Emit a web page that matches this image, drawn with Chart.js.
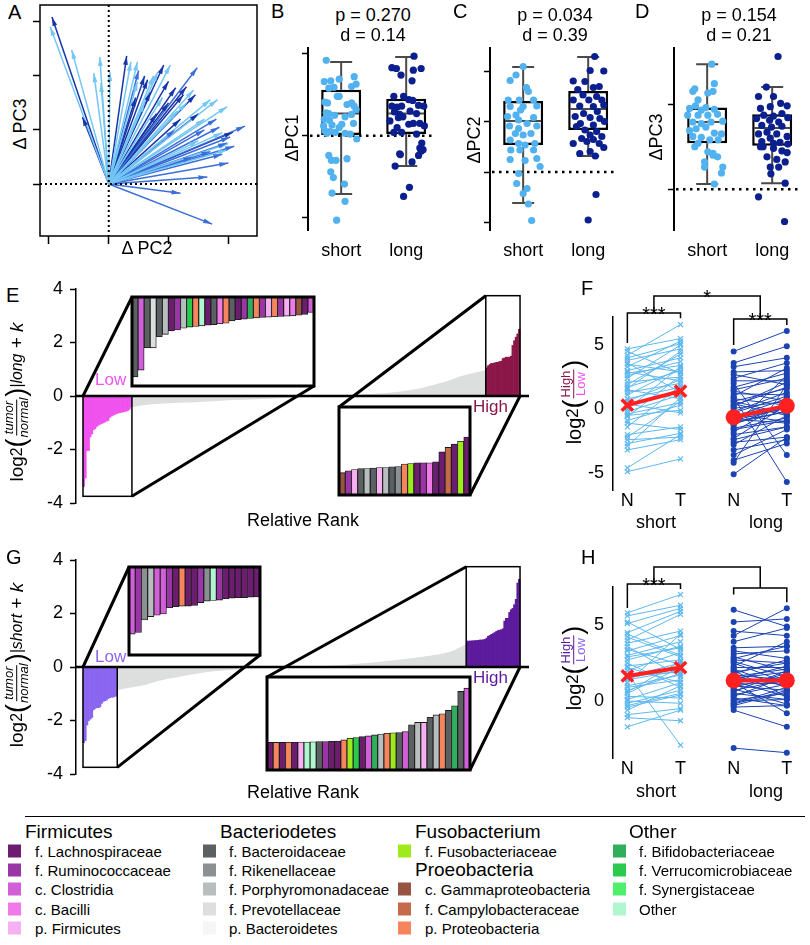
<!DOCTYPE html>
<html>
<head>
<meta charset="utf-8">
<title>Figure</title>
<script src="https://cdn.jsdelivr.net/npm/chart.js@4.4.1/dist/chart.umd.min.js"></script>
<style>
  html, body { margin: 0; padding: 0; background: #fff; }
  #fig { position: relative; width: 810px; height: 945px; overflow: hidden; background: #fff;
         font-family: "Liberation Sans", Arial, Helvetica, sans-serif; color: #000; }
  #fig canvas { position: absolute; }
  .t  { position: absolute; white-space: nowrap; line-height: 1; transform: translateY(-50%); font-size: 18px; }
  .tc { position: absolute; white-space: nowrap; line-height: 1; transform: translate(-50%, -50%); font-size: 18px; }
  .rot { position: absolute; white-space: nowrap; line-height: 1; font-size: 18px; display: flex; align-items: center;
         transform: translate(-50%, -50%) rotate(-90deg); }
  .pl { font-size: 20px; }
  .frac { display: inline-flex; flex-direction: column; align-items: center; font-size: 13px; line-height: 1.1; margin: 0 1px; }
  .frac > :first-child { border-bottom: 1.3px solid currentColor; padding: 0 1px; }
  .paren { font-size: 27px; font-weight: 300; }
  .sw { position: absolute; width: 13px; height: 13px; transform: translateY(-50%); }
  .lg { font-size: 15px; }
  .lh { font-size: 19px; }
  .rule { position: absolute; left: 25px; top: 816px; width: 780px; border-top: 1.5px solid #000; }
</style>
</head>
<body>
<div id="fig">
  <canvas id="cA" width="230" height="250" style="left:30px;top:0px"></canvas>
  <canvas id="cB" width="150" height="230" style="left:300px;top:40px"></canvas>
  <canvas id="cC" width="150" height="230" style="left:482px;top:40px"></canvas>
  <canvas id="cD" width="150" height="230" style="left:666px;top:40px"></canvas>
  <canvas id="cE" width="510" height="250" style="left:30px;top:271px"></canvas>
  <canvas id="cE1" width="186" height="93" style="left:130px;top:295px"></canvas>
  <canvas id="cE2" width="135" height="92" style="left:337px;top:405px"></canvas>
  <canvas id="cF" width="250" height="240" style="left:560px;top:280px"></canvas>
  <canvas id="cG" width="510" height="250" style="left:30px;top:542px"></canvas>
  <canvas id="cG1" width="135" height="92" style="left:127px;top:565px"></canvas>
  <canvas id="cG2" width="207" height="97" style="left:265px;top:675px"></canvas>
  <canvas id="cH" width="250" height="238" style="left:560px;top:550px"></canvas>

  <!-- panel A-D text -->
  <div class="t pl" style="left:8px;top:12px">A</div>
  <div class="rot" style="left:20px;top:124px">Δ PC3</div>
  <div class="tc" style="left:147px;top:248px">Δ PC2</div>

  <div class="t pl" style="left:271px;top:11px">B</div>
  <div class="tc" style="left:373px;top:15px">p = 0.270</div>
  <div class="tc" style="left:373px;top:35px">d = 0.14</div>
  <div class="rot" style="left:292px;top:138px">ΔPC1</div>

  <div class="t pl" style="left:453px;top:11px">C</div>
  <div class="tc" style="left:555px;top:15px">p = 0.034</div>
  <div class="tc" style="left:555px;top:35px">d = 0.39</div>
  <div class="rot" style="left:474px;top:140px">ΔPC2</div>

  <div class="t pl" style="left:635px;top:11px">D</div>
  <div class="tc" style="left:739px;top:15px">p = 0.154</div>
  <div class="tc" style="left:739px;top:35px">d = 0.21</div>
  <div class="rot" style="left:656px;top:137px">ΔPC3</div>

  <!-- panel E / F -->
  <div class="t pl" style="left:6px;top:295px">E</div>
  <div class="rot" style="left:17px;top:402px;font-size:19px">log<sub>2</sub><span class="paren">(</span><span class="frac"><i>tumor</i><i>normal</i></span><span class="paren">)</span><sub><i>|long</i></sub>&nbsp;+&nbsp;<i>k</i></div>
  <div class="t" style="left:95px;top:379px;font-size:17px;color:#F052EE">Low</div>
  <div class="t" style="left:473px;top:406px;font-size:17px;color:#8B1748">High</div>
  <div class="tc" style="left:303px;top:520px">Relative Rank</div>

  <div class="t pl" style="left:581px;top:288px">F</div>
  <div class="rot" style="left:574px;top:402px;font-size:20px">log<sub>2</sub><span class="paren">(</span><span class="frac"><span style="color:#8B1748">High</span><span style="color:#F052EE">Low</span></span><span class="paren">)</span></div>
  <div class="tc" style="left:656px;top:522px">short</div>
  <div class="tc" style="left:766px;top:522px">long</div>

  <!-- panel G / H -->
  <div class="t pl" style="left:6px;top:557px">G</div>
  <div class="rot" style="left:17px;top:665px;font-size:19px">log<sub>2</sub><span class="paren">(</span><span class="frac"><i>tumor</i><i>normal</i></span><span class="paren">)</span><sub><i>|short</i></sub>&nbsp;+&nbsp;<i>k</i></div>
  <div class="t" style="left:95px;top:656px;font-size:17px;color:#8A66F0">Low</div>
  <div class="t" style="left:473px;top:677px;font-size:17px;color:#5C1A9C">High</div>
  <div class="tc" style="left:303px;top:792px">Relative Rank</div>

  <div class="t pl" style="left:581px;top:557px">H</div>
  <div class="rot" style="left:574px;top:668px;font-size:20px">log<sub>2</sub><span class="paren">(</span><span class="frac"><span style="color:#5C1A9C">High</span><span style="color:#8A66F0">Low</span></span><span class="paren">)</span></div>
  <div class="tc" style="left:656px;top:791px">short</div>
  <div class="tc" style="left:766px;top:791px">long</div>

  <!-- legend -->
  <div class="rule"></div>
  <div class="t lh" style="left:25px;top:831px">Firmicutes</div>
  <div class="sw" style="left:8px;top:851px;background:#6C1D6F"></div><div class="t lg" style="left:35px;top:851px">f. Lachnospiraceae</div>
  <div class="sw" style="left:8px;top:870px;background:#9A35A6"></div><div class="t lg" style="left:35px;top:870px">f. Ruminococcaceae</div>
  <div class="sw" style="left:8px;top:889px;background:#D15FD8"></div><div class="t lg" style="left:35px;top:889px">c. Clostridia</div>
  <div class="sw" style="left:8px;top:909px;background:#EF7AE8"></div><div class="t lg" style="left:35px;top:909px">c. Bacilli</div>
  <div class="sw" style="left:8px;top:928px;background:#F6AFF0"></div><div class="t lg" style="left:35px;top:928px">p. Firmicutes</div>

  <div class="t lh" style="left:220px;top:831px">Bacteriodetes</div>
  <div class="sw" style="left:203px;top:851px;background:#5B6062"></div><div class="t lg" style="left:229px;top:851px">f. Bacteroidaceae</div>
  <div class="sw" style="left:203px;top:870px;background:#8B9192"></div><div class="t lg" style="left:229px;top:870px">f. Rikenellaceae</div>
  <div class="sw" style="left:203px;top:889px;background:#B8BDBD"></div><div class="t lg" style="left:229px;top:889px">f. Porphyromonadaceae</div>
  <div class="sw" style="left:203px;top:909px;background:#DCDFDE"></div><div class="t lg" style="left:229px;top:909px">f. Prevotellaceae</div>
  <div class="sw" style="left:203px;top:928px;background:#F6F6F6"></div><div class="t lg" style="left:229px;top:928px">p. Bacteroidetes</div>

  <div class="t lh" style="left:415px;top:831px">Fusobacterium</div>
  <div class="sw" style="left:398px;top:851px;background:#9FEA1A"></div><div class="t lg" style="left:425px;top:851px">f. Fusobacteriaceae</div>
  <div class="t lh" style="left:415px;top:869px">Proeobacteria</div>
  <div class="sw" style="left:398px;top:889px;background:#975442"></div><div class="t lg" style="left:425px;top:889px">c. Gammaproteobacteria</div>
  <div class="sw" style="left:398px;top:909px;background:#C56B4B"></div><div class="t lg" style="left:425px;top:909px">f. Campylobacteraceae</div>
  <div class="sw" style="left:398px;top:928px;background:#F6845C"></div><div class="t lg" style="left:425px;top:928px">p. Proteobacteria</div>

  <div class="t lh" style="left:629px;top:831px">Other</div>
  <div class="sw" style="left:613px;top:851px;background:#2FAF5B"></div><div class="t lg" style="left:639px;top:851px">f. Bifidobacteriaceae</div>
  <div class="sw" style="left:613px;top:870px;background:#28CB4E"></div><div class="t lg" style="left:639px;top:870px">f. Verrucomicrobiaceae</div>
  <div class="sw" style="left:613px;top:889px;background:#4DEF6C"></div><div class="t lg" style="left:639px;top:889px">f. Synergistaceae</div>
  <div class="sw" style="left:613px;top:909px;background:#AFF6D1"></div><div class="t lg" style="left:639px;top:909px">Other</div>
</div>

<script>
'use strict';

/* ---- data ---- */

// A: arrow end points (dPC2, dPC3), all start at the origin
var arrowsLight = [[-0.98,2.91],[-0.62,2.48],[-0.25,2.05],[-0.15,2.35],[-0.13,1.87],[0.02,2.07],[0.37,2.26],[0.48,2.26],
  [0.48,1.89],[0.82,2.07],[1.03,2.2],[1.42,1.74],[1.7,1.56],[1.82,1.56],[1.98,1.43],[1.98,0.63],[1.6,1.2],[1.3,1.5],
  [0.9,1.6],[0.6,1.5],[1.9,0.95],[1.5,0.8],[2.0,0.75],[1.15,1.35],[0.75,2.0]];
var arrowsMid = [[1.48,2.15],[2.28,1.07],[2.03,0.87],[1.98,0.76],[2.0,0.39],[1.65,0.13],[1.2,-0.17],[1.73,-0.74],
  [1.8,1.2],[1.6,1.0],[1.7,0.6],[1.9,0.55],[0.5,2.1],[1.1,1.0],[1.4,0.5],[2.1,0.7],[1.85,1.05]];
var arrowsDark = [[-0.95,3.09],[-0.44,1.24],[0.3,2.37],[0.65,1.93],[0.92,2.2],[1.12,1.78],[1.45,1.65],[0.7,1.7],
  [1.0,1.9],[1.3,1.8],[0.8,1.3],[1.2,1.2],[1.5,1.3],[0.6,2.0],[2.08,0.96],[1.25,1.65],[0.45,1.6],[1.0,1.5]];
var aTicksX = [-1, 0, 1, 2];
var aTicksY = [0, 1, 2, 3];

// B-D: jittered points [offset, value] and box stats [short, long]
var groupNames = ['short', 'long'];
var bShort = [[-0.23,0.92],[-0.26,0.66],[-0.16,0.67],[-0.03,0.69],[0.2,0.72],[0.23,0.63],[0.16,0.60],[-0.19,0.58],
  [-0.11,0.59],[-0.03,0.48],[-0.06,0.48],[-0.25,0.41],[-0.21,0.40],[0.16,0.40],[0.2,0.36],[0.09,0.38],[0.23,0.32],
  [-0.23,0.28],[-0.19,0.27],[-0.1,0.25],[0.16,0.26],[0.06,0.23],[-0.26,0.20],[-0.18,0.19],[0.19,0.15],[-0.14,0.13],
  [-0.03,0.10],[-0.25,0.06],[-0.17,0.05],[-0.22,0.03],[-0.09,0.04],[0.06,0.03],[0.14,0.02],[0.24,-0.04],[-0.19,-0.24],
  [-0.15,-0.30],[-0.08,-0.30],[0.09,-0.28],[-0.16,-0.44],[-0.12,-0.51],[0.05,-0.59],[-0.14,-0.70],[0.06,-0.80],
  [-0.07,-1.03],[-0.27,0.12],[0.01,0.14]];
var bLong = [[-0.22,0.83],[-0.15,0.82],[0.12,0.97],[0.11,0.80],[0.23,0.82],[-0.08,0.74],[0.09,0.67],[-0.19,0.48],
  [-0.04,0.48],[-0.22,0.36],[-0.14,0.35],[-0.07,0.36],[0.04,0.44],[0.10,0.43],[0.19,0.37],[0.27,0.36],[-0.18,0.29],
  [-0.10,0.26],[0.06,0.30],[0.16,0.27],[-0.12,0.22],[-0.05,0.23],[-0.25,0.18],[0.04,0.14],[0.11,0.15],[0.21,0.15],
  [0.28,0.12],[-0.14,0.10],[-0.07,0.04],[-0.19,0.04],[0.16,0.02],[0.24,-0.09],[0.21,-0.15],[0.26,-0.17],[-0.10,-0.22],
  [-0.09,-0.23],[0.09,-0.32],[0.23,-0.19],[-0.17,-0.37],[0.05,-0.63],[-0.04,-0.74],[0.19,-0.24]];
var bQ1 = [0.01, 0.02], bMed = [0.27, 0.27], bQ3 = [0.56, 0.45], bLo = [-0.71, -0.37], bHi = [0.90, 0.96];

var cShort = [[0,2.11],[-0.2,1.83],[-0.11,1.94],[0.05,1.69],[0.08,1.61],[-0.23,1.44],[-0.06,1.44],[0.16,1.44],
  [-0.2,1.31],[0,1.31],[0.21,1.32],[-0.11,1.14],[-0.04,1.24],[-0.24,1.11],[-0.07,1.04],[0.16,1.09],[0.06,0.97],
  [-0.21,0.92],[-0.07,0.87],[0.21,0.92],[-0.12,0.77],[0,0.74],[0.12,0.77],[-0.2,0.64],[-0.07,0.57],[0.03,0.54],
  [0.18,0.57],[-0.19,0.44],[-0.05,0.44],[0.16,0.44],[-0.2,0.25],[0.03,0.23],[-0.07,-0.03],[-0.1,-0.23],[0.06,-0.33],
  [0,-0.43],[0.08,-0.64],[0.13,-0.97],[0.21,0.27],[0.26,0.11]];
var cLong = [[0.1,2.31],[0.03,2.03],[0.24,2.02],[-0.23,1.82],[-0.05,1.81],[0.08,1.69],[-0.16,1.65],[0.17,1.71],
  [-0.08,1.54],[0.13,1.51],[-0.23,1.44],[0.01,1.44],[0.21,1.44],[-0.13,1.32],[0.08,1.31],[0.24,1.34],[-0.07,1.17],
  [0.14,1.21],[-0.2,1.11],[0.03,1.09],[0.18,1.07],[-0.12,0.97],[0.08,0.94],[0.25,1.01],[-0.05,0.84],[0.13,0.81],
  [-0.18,0.91],[0.03,0.74],[0.21,0.71],[-0.1,0.67],[0.08,0.65],[-0.23,0.57],[-0.02,0.61],[0.17,0.57],[0.24,0.49],
  [0.03,0.41],[0.11,0.32],[-0.13,0.37],[0.12,-0.45],[0,-0.96]];
var cQ1 = [0.54, 0.84], cMed = [1.02, 1.26], cQ3 = [1.42, 1.62], cLo = [-0.62, 0.32], cHi = [2.1, 2.3];

var dShort = [[0.07,1.47],[-0.19,1.18],[-0.22,1.15],[0.11,1.24],[0.01,1.13],[-0.14,1.05],[0.09,1.15],[-0.27,0.95],
  [-0.18,0.98],[-0.09,0.93],[-0.02,0.96],[0.11,0.94],[-0.3,0.87],[-0.14,0.87],[0.01,0.87],[0.16,0.88],[-0.22,0.79],
  [-0.09,0.77],[0.06,0.79],[0.24,0.80],[-0.27,0.69],[-0.17,0.71],[-0.02,0.73],[0.11,0.66],[0.22,0.65],[-0.22,0.62],
  [-0.09,0.61],[0.04,0.58],[0.17,0.58],[-0.14,0.54],[0.01,0.44],[0.09,0.42],[0.16,0.38],[-0.04,0.32],[0.24,0.26],
  [-0.04,0.26],[0.22,0.19],[0.11,0.06],[0.09,0.40],[-0.19,0.50]];
var dLong = [[0.09,1.56],[-0.09,1.20],[-0.21,1.09],[0.02,1.09],[0.13,1.01],[-0.18,0.95],[-0.03,0.97],[0.23,0.98],
  [-0.13,0.87],[0.02,0.86],[0.15,0.89],[-0.24,0.83],[-0.04,0.81],[0.1,0.79],[0.24,0.84],[-0.16,0.75],[-0.01,0.73],
  [0.15,0.74],[-0.21,0.65],[-0.08,0.67],[0.07,0.65],[0.23,0.62],[-0.16,0.56],[0.02,0.54],[-0.03,0.60],[0.12,0.55],
  [0.24,0.53],[-0.14,0.50],[0.02,0.48],[0.15,0.45],[0.23,0.43],[-0.08,0.38],[0.07,0.35],[0.2,0.32],[-0.03,0.26],
  [0.1,0.26],[-0.02,0.18],[0.2,0.07],[-0.21,-0.09],[0.19,-0.38],[-0.18,0.50]];
var dQ1 = [0.54, 0.51], dMed = [0.79, 0.72], dQ3 = [0.96, 0.88], dLo = [0.06, 0.07], dHi = [1.47, 1.2];

// E, G: ranked log2 fold changes
var rankCount = 268;
var rankTicks = [-4, -2, 0, 2, 4];
var eLow = [-3.38,-3.07,-2.04,-2.04,-1.53,-1.42,-1.26,-1.22,-1.14,-1.09,-1.06,-1.03,-1.0,-0.97,-0.94,-0.91,-0.80,
  -0.75,-0.72,-0.69,-0.66,-0.64,-0.63,-0.61,-0.60,-0.58,-0.57,-0.54,-0.50,-0.41];
var eLowTaxa = ['bacteroid','clostr','bacteroid','prevot','bacteroid','porph','lachno','rumino','porph','verru','pprot',
  'other','lachno','bacteroid','bacilli','pprot','bacteroid','lachno','rumino','bifido','pprot','rumino','pfirm','pprot',
  'rumino','pfirm','bacilli','gamma','lachno','clostr'];
var eHigh = [1.05,1.13,1.18,1.22,1.22,1.24,1.26,1.26,1.29,1.30,1.40,1.42,1.45,1.45,1.45,1.49,1.89,2.07,2.20,2.32,2.49];
var eHighTaxa = ['gamma','rumino','pfirm','bacteroid','porph','bacteroid','pfirm','porph','bacteroid','riken','pprot',
  'fuso','lachno','rumino','bacilli','lachno','lachno','campy','lachno','fuso','lachno'];
var eMiddle = [[30.5,-0.42],[35,-0.36],[45,-0.3],[60,-0.25],[72,-0.22],[92,-0.15],[114,-0.1],[135,-0.05],[150,-0.01],
  [165,0.03],[180,0.08],[194,0.16],[205,0.26],[215,0.41],[224,0.56],[231,0.72],[240,0.86],[247.5,0.97]];

var gLow = [-2.83,-2.75,-2.17,-2.01,-1.95,-1.89,-1.60,-1.55,-1.52,-1.52,-1.49,-1.36,-1.29,-1.26,-1.24,-1.18,-1.15,
  -1.13,-1.13,-1.10,-1.09];
var gLowTaxa = ['clostr','rumino','riken','porph','clostr','clostr','rumino','lachno','pprot','lachno','lachno','rumino',
  'riken','other','rumino','lachno','lachno','lachno','lachno','lachno','lachno'];
var gHigh = [0.97,0.97,0.97,0.98,0.98,0.99,0.99,1.0,1.01,1.01,1.02,1.03,1.08,1.15,1.18,1.22,1.25,1.29,1.33,1.36,1.38,
  1.39,1.43,1.72,1.82,1.82,2.04,2.14,2.19,2.33,2.53,3.14,3.28];
var gHighTaxa = ['lachno','pprot','lachno','pprot','lachno','pfirm','other','other','bacteroid','rumino','lachno','lachno',
  'pprot','fuso','verru','lachno','clostr','bifido','porph','pprot','fuso','bacteroid','clostr','bacteroid','porph','pfirm',
  'bacteroid','porph','pprot','bacteroid','bifido','bacteroid','clostr'];
var gMiddle = [[21.5,-0.87],[25,-0.82],[37,-0.69],[48,-0.5],[59,-0.37],[70,-0.25],[81,-0.16],[92,-0.1],[103,-0.06],
  [114,-0.03],[124,0],[150,0.04],[174,0.15],[194,0.27],[215,0.44],[227,0.6],[235.5,0.85]];

// F, H: paired log2(High/Low), normal vs tumour
var pairTickNames = ['N', 'T', 'N', 'T'];
var fShortN = [4.7,4.5,4.2,4.0,3.8,3.6,3.3,3.0,2.8,2.6,2.4,2.1,1.9,1.7,1.5,1.3,1.1,0.8,0.6,0.4,0.2,0.0,-0.2,-0.4,-0.6,
  -0.9,-1.1,-1.4,-2.0,-2.2,-2.4,-2.7,-2.9,-3.2,-4.6,-4.9,2.9,1.6,-0.5,3.5];
var fShortT = [5.5,2.8,6.6,5.1,4.7,1.3,5.3,4.0,3.4,3.7,5.0,2.5,4.3,3.0,0.8,2.0,3.2,1.7,2.3,-0.3,1.5,3.3,1.1,0.5,2.6,
  0.3,-1.6,1.8,-1.4,0.6,-2.2,-1.9,0.9,-2.4,-2.0,-3.9,2.2,4.5,-0.1,2.9];
var fLongN = [4.5,3.6,3.3,2.9,2.7,2.4,2.0,1.7,1.5,1.2,1.0,0.8,0.6,0.4,0.2,0.05,-0.2,-0.4,-0.6,-0.9,-1.1,-1.3,-1.5,-1.8,
  -2.0,-2.3,-2.6,-2.8,-3.2,-3.6,-4.0,-4.2,-5.1,0.9,-0.3,-1.0,-0.7,1.4,-1.6,0.3,-2.4,2.2,-0.8,-1.2,0.6];
var fLongT = [6.1,4.9,4.0,3.0,1.9,3.6,-3.6,2.8,2.4,1.1,3.2,0.3,1.6,-0.5,2.1,0.6,1.3,-1.0,0.8,0.1,-0.2,2.6,-0.7,0.6,
  -1.4,0.3,-2.2,-0.5,-2.4,-1.6,-2.7,1.9,-2.2,-5.7,1.0,-0.2,0.05,0.6,-0.9,1.7,-1.4,2.2,-1.1,0.3,-0.4];
var fShortMean = [0.3, 1.4], fLongMean = [-0.65, 0.25];
var fBrackets = [[1, 2, 7.5, 5.16, 7.1, '***'], [3, 4, 7.03, 5.0, 6.56, '***'], [1.5, 3.5, 8.83, 7.5, 7.03, '*']];

var hShortN = [5.8,5.6,5.2,5.1,4.5,4.2,4.0,3.8,3.6,3.3,3.0,2.7,2.5,2.3,2.0,1.8,1.6,1.4,1.2,0.9,0.7,0.5,0.3,0.1,-0.15,
  -0.4,-0.6,-0.9,-1.1,-1.7,2.9,1.5,0.0,2.2,3.4,1.0,-0.3,0.6,4.4,1.7];
var hShortT = [7.0,6.3,3.4,6.1,5.9,2.9,5.7,4.6,1.6,4.3,3.9,3.6,0.9,2.7,3.2,-2.9,2.5,2.0,4.4,1.4,1.8,2.2,0.2,1.2,0.7,
  0.4,1.0,-0.5,-1.3,-0.6,3.5,2.2,-0.15,1.2,2.4,1.7,0.5,2.6,3.0,1.9];
var hLongN = [6.0,5.2,4.6,4.3,3.9,3.5,3.1,2.9,2.7,2.5,2.3,2.0,1.8,1.6,1.4,1.2,0.9,0.7,0.5,0.3,0.07,-0.15,-0.4,-0.6,
  -3.1,2.2,1.5,1.0,0.2,2.8,1.7,0.6,1.3,-0.2,2.6,1.9,0.4,3.3,1.1,0.0,2.1,1.6,0.8,-0.3,1.2];
var hLongT = [4.9,5.4,4.3,6.1,4.8,3.6,3.3,2.0,2.5,1.2,3.9,0.3,2.7,1.0,2.3,-0.8,1.8,1.4,0.1,1.6,0.5,0.9,-0.3,-1.7,
  -3.4,2.2,1.9,0.7,-0.3,3.6,1.4,2.0,0.3,0.7,1.6,2.5,1.1,2.8,1.2,0.1,0.9,2.1,-0.2,0.6,1.6];
var hShortMean = [1.65, 2.2], hLongMean = [1.35, 1.35];
var hBrackets = [[1, 2, 7.7, 6.12, 7.37, '***'], [3, 4, 7.43, 7.0, 6.5, ''], [1.5, 3.5, 8.82, 7.7, 7.43, '']];

/* ---- colours ---- */
var taxonColors = {
  lachno: '#6C1D6F', rumino: '#9A35A6', clostr: '#D15FD8', bacilli: '#EF7AE8', pfirm: '#F6AFF0',
  bacteroid: '#5B6062', riken: '#8B9192', porph: '#B8BDBD', prevot: '#DCDFDE', pbact: '#F6F6F6',
  fuso: '#9FEA1A', gamma: '#975442', campy: '#C56B4B', pprot: '#F6845C',
  bifido: '#2FAF5B', verru: '#28CB4E', synerg: '#4DEF6C', other: '#AFF6D1'
};
var arrowLight = '#74C6F4', arrowMid = '#3B6FD8', arrowDark = '#1936A8';
var ptLight = '#52B2EF', ptNavy = '#0B1F8E';
var pairLight = '#5DB8EE', pairNavy = '#1B43B2', meanRed = '#FF2121';

Chart.defaults.font.family = '"Liberation Sans", Arial, Helvetica, sans-serif';
Chart.defaults.font.size = 18;
Chart.defaults.color = '#000';
Chart.defaults.animation = false;
Chart.defaults.responsive = false;
Chart.defaults.events = [];
Chart.defaults.plugins.legend.display = false;
Chart.defaults.plugins.tooltip.enabled = false;

function fixedTicks(values) {
  return function(scale) {
    scale.ticks = values.map(function(v) { return { value: v }; });
  };
}

/* ---- A: arrows ---- */
function arrowSet(list, color) {
  return list.map(function(p) {
    return { data: [{ x: 0, y: 0 }, { x: p[0], y: p[1] }], showLine: true,
      borderColor: color, backgroundColor: color, borderWidth: 1.5, pointRadius: 0 };
  });
}

var arrowHeads = {
  id: 'arrowHeads',
  afterDatasetsDraw: function(chart) {
    var ctx = chart.ctx, a = chart.chartArea;
    var x0 = chart.scales.x.getPixelForValue(0), y0 = chart.scales.y.getPixelForValue(0);
    ctx.save();
    chart.data.datasets.forEach(function(ds, i) {
      var pts = chart.getDatasetMeta(i).data;
      var q = pts[0], p = pts[1];
      var ang = Math.atan2(p.y - q.y, p.x - q.x);
      var len = 9, w = 2.4;
      var bx = p.x - len * Math.cos(ang), by = p.y - len * Math.sin(ang);
      ctx.fillStyle = ds.borderColor;
      ctx.beginPath();
      ctx.moveTo(p.x, p.y);
      ctx.lineTo(bx + w * Math.sin(ang), by - w * Math.cos(ang));
      ctx.lineTo(bx - w * Math.sin(ang), by + w * Math.cos(ang));
      ctx.closePath();
      ctx.fill();
    });
    ctx.strokeStyle = '#000';
    ctx.lineWidth = 2;
    ctx.setLineDash([2, 3]);
    ctx.beginPath();
    ctx.moveTo(x0, a.top); ctx.lineTo(x0, a.bottom);
    ctx.moveTo(a.left, y0); ctx.lineTo(a.right, y0);
    ctx.stroke();
    ctx.setLineDash([]);
    ctx.lineWidth = 1.5;
    ctx.strokeRect(a.left, a.top, a.right - a.left, a.bottom - a.top);
    ctx.restore();
  }
};

new Chart(document.getElementById('cA'), {
  type: 'scatter',
  data: { datasets: [].concat(arrowSet(arrowsLight, arrowLight), arrowSet(arrowsMid, arrowMid), arrowSet(arrowsDark, arrowDark)) },
  options: {
    layout: { padding: { top: 5, right: 3, bottom: 5, left: 2 } },
    scales: {
      x: { type: 'linear', min: -1.15, max: 2.48, afterBuildTicks: fixedTicks(aTicksX), ticks: { display: false },
           grid: { drawOnChartArea: false, tickLength: 8, tickColor: '#000', tickWidth: 1.5 }, border: { display: false },
           afterFit: function(s) { s.height = 9; } },
      y: { type: 'linear', min: -0.96, max: 3.31, afterBuildTicks: fixedTicks(aTicksY), ticks: { display: false },
           grid: { drawOnChartArea: false, tickLength: 7, tickColor: '#000', tickWidth: 1.5 }, border: { display: false },
           afterFit: function(s) { s.width = 8; } }
    }
  },
  plugins: [arrowHeads]
});

/* ---- B-D: box plots with jittered points ---- */
function boxChart(id, shortPts, longPts, q1, med, q3, lo, hi, yMin, yMax, yTicks) {
  var boxLines = {
    id: 'boxLines',
    afterDatasetDraw: function(chart, args) {
      if (args.index !== 0) return;
      var ctx = chart.ctx, ys = chart.scales.y, a = chart.chartArea;
      var bars = chart.getDatasetMeta(0).data;
      ctx.save();
      ctx.strokeStyle = '#4a4a4a';
      ctx.lineWidth = 2;
      bars.forEach(function(bar, i) {
        var cx = bar.x, half = bar.width / 2, cap = 11;
        var yHi = ys.getPixelForValue(hi[i]), yLo = ys.getPixelForValue(lo[i]), yMed = ys.getPixelForValue(med[i]);
        ctx.beginPath();
        ctx.moveTo(cx, ys.getPixelForValue(q3[i])); ctx.lineTo(cx, yHi);
        ctx.moveTo(cx, ys.getPixelForValue(q1[i])); ctx.lineTo(cx, yLo);
        ctx.moveTo(cx - cap, yHi); ctx.lineTo(cx + cap, yHi);
        ctx.moveTo(cx - cap, yLo); ctx.lineTo(cx + cap, yLo);
        ctx.moveTo(cx - half + 2, yMed); ctx.lineTo(cx + half - 2, yMed);
        ctx.stroke();
      });
      var y0 = ys.getPixelForValue(0);
      ctx.strokeStyle = '#000';
      ctx.lineWidth = 2.5;
      ctx.setLineDash([2.5, 4.5]);
      ctx.beginPath(); ctx.moveTo(a.left + 2, y0); ctx.lineTo(a.right - 6, y0); ctx.stroke();
      ctx.restore();
    }
  };

  return new Chart(document.getElementById(id), {
    type: 'bar',
    data: {
      datasets: [
        { type: 'bar', order: 2,
          data: q1.map(function(v, i) { return { x: i + 1, y: [v, q3[i]] }; }),
          backgroundColor: '#fff', borderColor: '#000', borderWidth: 2.5, borderSkipped: false,
          barPercentage: 0.615, categoryPercentage: 1 },
        { type: 'scatter', order: 1,
          data: shortPts.map(function(p) { return { x: 1 + p[0], y: p[1] }; }),
          backgroundColor: ptLight, pointRadius: 3.6, pointBorderWidth: 0 },
        { type: 'scatter', order: 1,
          data: longPts.map(function(p) { return { x: 2 + p[0], y: p[1] }; }),
          backgroundColor: ptNavy, pointRadius: 3.6, pointBorderWidth: 0 }
      ]
    },
    options: {
      layout: { padding: { top: 8, right: 10, bottom: 5, left: 0 } },
      scales: {
        x: { type: 'linear', min: 0.49, max: 2.52, offset: false, afterBuildTicks: fixedTicks([1, 2]),
             ticks: { callback: function(v, i) { return groupNames[i]; }, padding: 10, autoSkip: false, maxRotation: 0 },
             grid: { display: false, drawTicks: false }, border: { display: false },
             afterFit: function(s) { s.height = 35; } },
        y: { type: 'linear', min: yMin, max: yMax, afterBuildTicks: fixedTicks(yTicks), ticks: { display: false },
             grid: { drawOnChartArea: false, tickLength: 6, tickColor: '#000', tickWidth: 1.5 },
             border: { color: '#000', width: 2 },
             afterFit: function(s) { s.width = 8; } }
      }
    },
    plugins: [boxLines]
  });
}

boxChart('cB', bShort, bLong, bQ1, bMed, bQ3, bLo, bHi, -1.15, 1.07, [-1, 0, 1]);
boxChart('cC', cShort, cLong, cQ1, cMed, cQ3, cLo, cHi, -1.16, 2.48, [-1, 0, 1, 2]);
boxChart('cD', dShort, dLong, dQ1, dMed, dQ3, dLo, dHi, -0.48, 1.66, [0, 1]);

/* ---- E, G: ranked bars with zoomed insets ---- */
function insetChart(id, values, taxa, yMin, yMax, base) {
  var frame = {
    id: 'insetFrame',
    beforeDraw: function(chart) {
      var a = chart.chartArea, ctx = chart.ctx;
      ctx.save(); ctx.fillStyle = '#fff';
      ctx.fillRect(a.left, a.top, a.right - a.left, a.bottom - a.top);
      ctx.restore();
    },
    afterDraw: function(chart) {
      var a = chart.chartArea, ctx = chart.ctx;
      ctx.save(); ctx.strokeStyle = '#000'; ctx.lineWidth = 3;
      ctx.strokeRect(a.left, a.top, a.right - a.left, a.bottom - a.top);
      ctx.restore();
    }
  };
  return new Chart(document.getElementById(id), {
    type: 'bar',
    data: {
      labels: values.map(function(v, i) { return i + 1; }),
      datasets: [{ data: values, base: base,
        backgroundColor: taxa.map(function(k) { return taxonColors[k]; }),
        borderColor: '#1a1a1a', borderWidth: 0.9, borderSkipped: false,
        barPercentage: 1, categoryPercentage: 1 }]
    },
    options: {
      layout: { padding: 2 },
      scales: { x: { display: false }, y: { display: false, min: yMin, max: yMax } }
    },
    plugins: [frame]
  });
}

function areaOn(inset, main) {
  var a = inset.chartArea;
  var dx = inset.canvas.offsetLeft - main.canvas.offsetLeft;
  var dy = inset.canvas.offsetTop - main.canvas.offsetTop;
  return { left: a.left + dx, top: a.top + dy, right: a.right + dx, bottom: a.bottom + dy };
}

function rankChart(id, low, high, middle, lowColor, highColor, lowInset, highInset) {
  var nLow = low.length, nHigh = high.length, boxDepth = 3.75;
  var zoomLines = {
    id: 'zoomLines',
    afterDatasetsDraw: function(chart) {
      var ctx = chart.ctx, xs = chart.scales.x, ys = chart.scales.y, a = chart.chartArea;
      var y0 = ys.getPixelForValue(0);
      var lowL = xs.getPixelForValue(0.5), lowR = xs.getPixelForValue(nLow + 0.5), lowB = ys.getPixelForValue(-boxDepth);
      var hiL = xs.getPixelForValue(rankCount - nHigh + 0.5), hiR = xs.getPixelForValue(rankCount + 0.5);
      var hiT = ys.getPixelForValue(boxDepth);
      var up = areaOn(lowInset, chart), dn = areaOn(highInset, chart);
      ctx.save();
      ctx.strokeStyle = '#000';
      ctx.lineWidth = 1.5;
      ctx.strokeRect(lowL, y0, lowR - lowL, lowB - y0);
      ctx.strokeRect(hiL, hiT, hiR - hiL, y0 - hiT);
      ctx.lineWidth = 2.5;
      ctx.beginPath(); ctx.moveTo(a.left, y0); ctx.lineTo(a.right, y0); ctx.stroke();
      ctx.lineWidth = 3;
      ctx.beginPath();
      ctx.moveTo(lowL, y0); ctx.lineTo(up.left, up.top);
      ctx.moveTo(up.right, up.bottom); ctx.lineTo(lowR, lowB);
      ctx.moveTo(hiL, hiT); ctx.lineTo(dn.left, dn.top);
      ctx.moveTo(hiR, y0); ctx.lineTo(dn.right, dn.bottom);
      ctx.stroke();
      ctx.restore();
    }
  };

  return new Chart(document.getElementById(id), {
    type: 'bar',
    data: {
      datasets: [
        { type: 'bar', grouped: false, data: low.map(function(v, i) { return { x: i + 1, y: v }; }),
          backgroundColor: lowColor, borderWidth: 0, barPercentage: 1, categoryPercentage: 1 },
        { type: 'bar', grouped: false, data: high.map(function(v, i) { return { x: rankCount - nHigh + 1 + i, y: v }; }),
          backgroundColor: highColor, borderWidth: 0, barPercentage: 1, categoryPercentage: 1 },
        { type: 'line', data: middle.map(function(p) { return { x: p[0], y: p[1] }; }),
          fill: 'origin', backgroundColor: '#DDDFDE', borderWidth: 0, pointRadius: 0,
          cubicInterpolationMode: 'monotone' }
      ]
    },
    options: {
      layout: { padding: { top: 18, right: 11, bottom: 18, left: 0 } },
      scales: {
        x: { type: 'linear', display: false, min: -3.8, max: 274, offset: false },
        y: { type: 'linear', min: -4, max: 4, afterBuildTicks: fixedTicks(rankTicks), ticks: { padding: 7 },
             grid: { drawOnChartArea: false, tickLength: 6, tickColor: '#000', tickWidth: 1.5 },
             border: { color: '#000', width: 1.5 },
             afterFit: function(s) { s.width = 46; } }
      }
    },
    plugins: [zoomLines]
  });
}

var e1 = insetChart('cE1', eLow, eLowTaxa, -3.8, 0.3, 0.3);
var e2 = insetChart('cE2', eHigh, eHighTaxa, 0.15, 3.7, 0.15);
rankChart('cE', eLow, eHigh, eMiddle, '#F052EE', '#8B1748', e1, e2);

var g1 = insetChart('cG1', gLow, gLowTaxa, -3.8, 0.3, 0.3);
var g2 = insetChart('cG2', gHigh, gHighTaxa, -0.2, 3.75, -0.2);
rankChart('cG', gLow, gHigh, gMiddle, '#8A66F0', '#5C1A9C', g1, g2);

/* ---- F, H: paired lines ---- */
function pairPoints(n, t, x0) {
  var pts = [];
  n.forEach(function(v, i) {
    pts.push({ x: x0, y: v }, { x: x0 + 1, y: t[i] }, { x: x0 + 0.5, y: null });
  });
  return pts;
}

function pairChart(id, sN, sT, lN, lT, sMean, lMean, yMin, yMax, yTicks, brackets) {
  var bracketLines = {
    id: 'brackets',
    afterDraw: function(chart) {
      var ctx = chart.ctx, xs = chart.scales.x, ys = chart.scales.y;
      ctx.save();
      ctx.strokeStyle = '#000';
      ctx.fillStyle = '#000';
      ctx.lineWidth = 1.5;
      ctx.font = '20px "Liberation Sans", Arial, sans-serif';
      ctx.textAlign = 'center';
      ctx.textBaseline = 'alphabetic';
      brackets.forEach(function(b) {
        var x1 = xs.getPixelForValue(b[0]), x2 = xs.getPixelForValue(b[1]), yb = ys.getPixelForValue(b[2]);
        ctx.beginPath();
        ctx.moveTo(x1, ys.getPixelForValue(b[3]));
        ctx.lineTo(x1, yb); ctx.lineTo(x2, yb);
        ctx.lineTo(x2, ys.getPixelForValue(b[4]));
        ctx.stroke();
        if (b[5]) ctx.fillText(b[5], (x1 + x2) / 2, yb + 8);
      });
      ctx.restore();
    }
  };

  return new Chart(document.getElementById(id), {
    type: 'line',
    data: {
      datasets: [
        { order: 1, data: [{ x: 1, y: sMean[0] }, { x: 2, y: sMean[1] }], borderColor: meanRed, borderWidth: 4,
          pointStyle: 'crossRot', pointRadius: 8, pointBorderColor: meanRed, pointBorderWidth: 3.5 },
        { order: 1, data: [{ x: 3, y: lMean[0] }, { x: 4, y: lMean[1] }], borderColor: meanRed, borderWidth: 4,
          pointStyle: 'circle', pointRadius: 8, pointBackgroundColor: meanRed, pointBorderWidth: 0 },
        { order: 2, data: pairPoints(sN, sT, 1), borderColor: pairLight, borderWidth: 1,
          pointStyle: 'crossRot', pointRadius: 3.5, pointBorderColor: pairLight, pointBorderWidth: 1.2 },
        { order: 2, data: pairPoints(lN, lT, 3), borderColor: pairNavy, borderWidth: 1,
          pointStyle: 'circle', pointRadius: 3, pointBackgroundColor: pairNavy, pointBorderWidth: 0 }
      ]
    },
    options: {
      layout: { padding: { top: 37, right: 5, bottom: 5, left: 0 } },
      scales: {
        x: { type: 'linear', min: 0.73, max: 4.22, afterBuildTicks: fixedTicks([1, 2, 3, 4]),
             ticks: { callback: function(v, i) { return pairTickNames[i]; }, padding: 0, autoSkip: false, maxRotation: 0 },
             grid: { display: false, drawTicks: false }, border: { display: false },
             afterFit: function(s) { s.height = 25; } },
        y: { type: 'linear', min: yMin, max: yMax, afterBuildTicks: fixedTicks(yTicks), ticks: { padding: 9 },
             grid: { display: false, drawTicks: false }, border: { color: '#000', width: 1.5 },
             afterFit: function(s) { s.width = 53; } }
      }
    },
    plugins: [bracketLines]
  });
}

pairChart('cF', fShortN, fShortT, fLongN, fLongT, fShortMean, fLongMean, -6.33, 7.19, [-5, 0, 5], fBrackets);
pairChart('cH', hShortN, hShortT, hLongN, hLongT, hShortMean, hLongMean, -3.75, 7.5, [0, 5], hBrackets);
</script>
</body>
</html>
